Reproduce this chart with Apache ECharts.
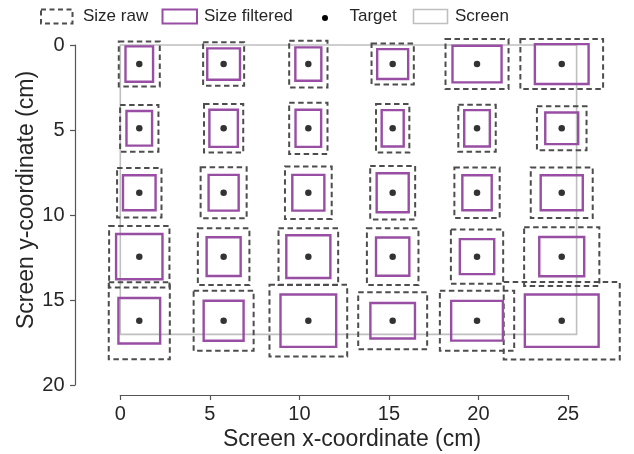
<!DOCTYPE html>
<html>
<head>
<meta charset="utf-8">
<script src="https://cdn.jsdelivr.net/npm/echarts@6/dist/echarts.min.js"></script>
<style>
  html, body { margin: 0; padding: 0; background: #fff; }
  #chart { width: 634px; height: 454px; }
</style>
</head>
<body>
<div id="chart"></div>
<script>
// target centres (cm)
const xTargets = [1.06, 5.77, 10.50, 15.21, 19.92, 24.65];
const yTargets = [1.12, 4.90, 8.69, 12.45, 16.22];

// raw size (cm), one row per target row
const rawW = [
  [2.29, 2.29, 2.14, 2.36, 3.52, 4.62],
  [2.14, 2.19, 2.14, 1.86, 2.09, 2.77],
  [2.48, 2.57, 2.61, 2.51, 2.53, 3.46],
  [3.37, 2.88, 3.33, 2.88, 2.92, 4.20],
  [3.41, 3.35, 4.34, 3.85, 4.15, 6.48]
];
const rawH = [
  [2.65, 2.55, 2.75, 2.41, 2.94, 2.94],
  [2.75, 2.86, 3.02, 2.86, 2.76, 2.59],
  [2.91, 3.00, 3.08, 3.14, 2.98, 2.98],
  [3.62, 3.34, 3.34, 3.34, 3.18, 3.45],
  [4.53, 3.53, 4.22, 3.35, 3.53, 4.56]
];

// filtered size (cm)
const filtW = [
  [1.54, 1.83, 1.45, 1.73, 2.74, 3.00],
  [1.43, 1.59, 1.43, 1.23, 1.43, 1.84],
  [1.82, 1.68, 1.79, 1.79, 1.64, 2.35],
  [2.59, 1.90, 2.46, 1.86, 1.92, 2.51],
  [2.33, 2.23, 3.11, 2.49, 2.89, 4.12]
];
const filtH = [
  [2.08, 1.84, 1.96, 1.76, 2.16, 2.34],
  [2.04, 2.19, 2.19, 2.14, 2.14, 1.86],
  [2.06, 2.10, 2.10, 2.29, 2.06, 2.06],
  [2.66, 2.28, 2.51, 2.25, 2.06, 2.31],
  [2.68, 2.35, 3.08, 2.09, 2.34, 3.08]
];

// screen extent (cm)
const screenSize = [25.48, 17.02];

const xTicks = [0, 5, 10, 15, 20, 25];
const yTicks = [0, 5, 10, 15, 20];

const FONT = "'Liberation Sans', Arial, sans-serif";
const RAW_COLOR = '#4d4d4d';
const FILT_COLOR = '#984ea3';
const SCREEN_COLOR = '#bfbfbf';
const AXIS_COLOR = '#555';

function boxes(wArr, hArr) {
  const out = [];
  yTargets.forEach(function (y, r) {
    xTargets.forEach(function (x, c) {
      out.push([x, y, wArr[r][c], hArr[r][c]]);
    });
  });
  return out;
}

const targets = [];
yTargets.forEach(function (y) {
  xTargets.forEach(function (x) { targets.push([x, y]); });
});

// centred rectangle around (x, y)
function centredRect(style) {
  return function (params, api) {
    const cx = api.value(0), cy = api.value(1);
    const w = api.value(2), h = api.value(3);
    const a = api.coord([cx - w / 2, cy - h / 2]);
    const b = api.coord([cx + w / 2, cy + h / 2]);
    return {
      type: 'rect',
      shape: {
        x: Math.min(a[0], b[0]), y: Math.min(a[1], b[1]),
        width: Math.abs(b[0] - a[0]), height: Math.abs(b[1] - a[1])
      },
      style: style
    };
  };
}

var myChart = echarts.init(document.getElementById('chart'));

var option = {
  animation: false,
  textStyle: { fontFamily: FONT },
  grid: { left: 120.3, right: 66, top: 45, bottom: 69, containLabel: false },
  xAxis: {
    type: 'value',
    min: 0, max: 25, interval: 5,
    offset: 10,
    axisLine: { show: true, onZero: false, lineStyle: { color: AXIS_COLOR, width: 1.2 } },
    axisTick: { show: true, length: 5, lineStyle: { color: AXIS_COLOR, width: 1.2 } },
    splitLine: { show: false },
    axisLabel: {
      margin: 9, fontSize: 20, color: '#262626', fontFamily: FONT,
      formatter: function (v) { return xTicks.indexOf(v) >= 0 ? String(v) : ''; }
    }
  },
  yAxis: {
    type: 'value',
    inverse: true,
    min: 0, max: 20, interval: 5,
    offset: 45.3,
    axisLine: { show: true, onZero: false, lineStyle: { color: AXIS_COLOR, width: 1.2 } },
    axisTick: { show: true, length: 5, lineStyle: { color: AXIS_COLOR, width: 1.2 } },
    splitLine: { show: false },
    axisLabel: {
      margin: 10.5, fontSize: 20, color: '#262626', fontFamily: FONT,
      formatter: function (v) { return yTicks.indexOf(v) >= 0 ? String(v) : ''; }
    }
  },
  graphic: [
    // axis titles
    { type: 'text', x: 352, y: 440, style: { text: 'Screen x-coordinate (cm)', font: '23px ' + FONT, fill: '#262626', align: 'center', verticalAlign: 'middle' } },
    { type: 'text', x: 27, y: 200, rotation: Math.PI / 2, style: { text: 'Screen y-coordinate (cm)', font: '23px ' + FONT, fill: '#262626', align: 'center', verticalAlign: 'middle' } },
    // legend
    { type: 'rect', shape: { x: 41, y: 9.5, width: 31.5, height: 14 }, style: { fill: 'none', stroke: RAW_COLOR, lineWidth: 2, lineDash: [5, 3.5] } },
    { type: 'text', x: 83, y: 16.5, style: { text: 'Size raw', font: '17px ' + FONT, fill: '#262626', verticalAlign: 'middle' } },
    { type: 'rect', shape: { x: 162.5, y: 9.5, width: 34.5, height: 14 }, style: { fill: 'none', stroke: FILT_COLOR, lineWidth: 2 } },
    { type: 'text', x: 204, y: 16.5, style: { text: 'Size filtered', font: '17px ' + FONT, fill: '#262626', verticalAlign: 'middle' } },
    { type: 'circle', shape: { cx: 325, cy: 18, r: 3 }, style: { fill: '#000' } },
    { type: 'text', x: 349.5, y: 16.5, style: { text: 'Target', font: '17px ' + FONT, fill: '#262626', verticalAlign: 'middle' } },
    { type: 'rect', shape: { x: 413.5, y: 9.5, width: 34, height: 14 }, style: { fill: 'none', stroke: SCREEN_COLOR, lineWidth: 1.6 } },
    { type: 'text', x: 455, y: 16.5, style: { text: 'Screen', font: '17px ' + FONT, fill: '#262626', verticalAlign: 'middle' } }
  ],
  series: [
    {
      name: 'Screen',
      type: 'custom',
      clip: false,
      z: 1,
      data: [[0, 0, screenSize[0], screenSize[1]]],
      encode: { x: [0, 2], y: [1, 3] },
      renderItem: function (params, api) {
        const a = api.coord([api.value(0), api.value(1)]);
        const b = api.coord([api.value(2), api.value(3)]);
        return {
          type: 'rect',
          shape: { x: a[0], y: a[1], width: b[0] - a[0], height: b[1] - a[1] },
          style: { fill: 'none', stroke: SCREEN_COLOR, lineWidth: 1.6 }
        };
      }
    },
    {
      name: 'Size raw',
      type: 'custom',
      clip: false,
      z: 2,
      data: boxes(rawW, rawH),
      encode: { x: 0, y: 1 },
      renderItem: centredRect({ fill: 'none', stroke: RAW_COLOR, lineWidth: 2, lineDash: [5.5, 3.5] })
    },
    {
      name: 'Size filtered',
      type: 'custom',
      clip: false,
      z: 3,
      data: boxes(filtW, filtH),
      encode: { x: 0, y: 1 },
      renderItem: centredRect({ fill: 'none', stroke: FILT_COLOR, lineWidth: 2.4 })
    },
    {
      name: 'Target',
      type: 'scatter',
      z: 4,
      symbolSize: 6.5,
      itemStyle: { color: '#000' },
      data: targets
    }
  ]
};

myChart.setOption(option);
</script>
</body>
</html>
